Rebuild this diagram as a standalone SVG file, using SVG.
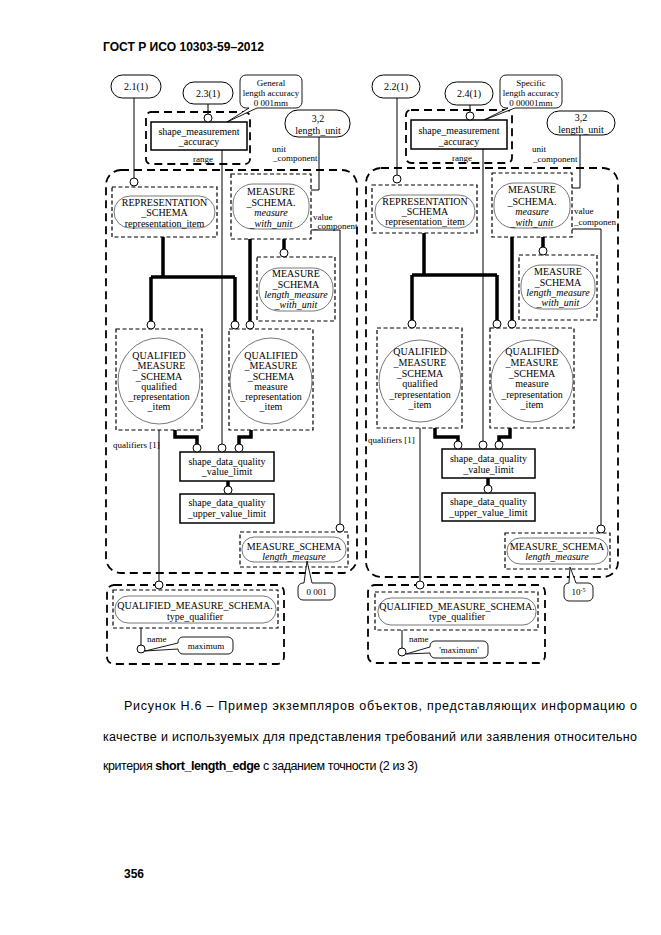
<svg xmlns="http://www.w3.org/2000/svg" width="661" height="935" viewBox="0 0 661 935">
<style>
.bub{fill:#fff;stroke:#000;stroke-width:1}
.box{fill:#fff;stroke:#000;stroke-width:1.5}
.dbox{fill:none;stroke:#000;stroke-width:1.2;stroke-dasharray:4 2.5}
.big{fill:none;stroke:#000;stroke-width:1.8;stroke-dasharray:8 5}
.ov{fill:#fff;stroke:#555;stroke-width:0.8}
.call{fill:#fff;stroke:#000;stroke-width:0.9}
.thin{fill:none;stroke:#000;stroke-width:1}
.thick{fill:none;stroke:#000;stroke-width:3.5}
.c{fill:#fff;stroke:#000;stroke-width:1}
text{font-family:"Liberation Serif","Times New Roman",serif;font-size:10px;fill:#000}
.m{text-anchor:middle}
.s{font-size:9px}
.i{font-style:italic}
.hd{font-family:"Liberation Sans",Arial,sans-serif;font-weight:bold;font-size:12px}
.cap{font-family:"Liberation Sans",Arial,sans-serif;font-size:12.5px}
</style>
<rect width="661" height="935" fill="#fff"/>
<text class="hd" x="103" y="51" textLength="161" lengthAdjust="spacingAndGlyphs">ГОСТ Р ИСО 10303-59–2012</text>

<!-- LEFT DIAGRAM -->
<g id="L_frame_main"><rect class="big" x="106" y="170" width="251" height="403" rx="15"/></g>
<g id="L_range_frame"><rect class="big" x="146" y="112" width="104" height="52" rx="5"/><text class="s m" x="203" y="162">range</text></g>
<g id="L_ref_2_1"><rect class="bub" x="111" y="75" width="50" height="23" rx="11.5"/><text class="m" x="136" y="90">2.1(1)</text></g>
<g id="L_ref_2_3"><rect class="bub" x="183" y="82" width="50" height="22" rx="11"/><text class="m" x="208" y="97">2.3(1)</text></g>
<g id="L_note_general"><path class="call" d="M246,75 H296 A6,6 0 0 1 302,81 V102 A6,6 0 0 1 296,108 H257 L227,122 L249,108 H246 A6,6 0 0 1 240,102 V81 A6,6 0 0 1 246,75 Z"/>
<text class="s m" x="271" y="86">General</text><text class="s m" x="271" y="96">length accuracy</text><text class="s m" x="271" y="106">0 001mm</text></g>
<g id="L_sma"><rect class="box" x="151" y="122" width="96" height="28"/><text class="m" x="199" y="135">shape_measurement</text><text class="m" x="199" y="145">_accuracy</text></g>
<g id="L_ref_3_2"><rect class="bub" x="285" y="110" width="65" height="27" rx="13"/><text class="m" x="318" y="122">3,2</text><text class="m" x="318" y="134">length_unit</text></g>
<g id="L_lbl_unit"><text class="s" x="272" y="152">unit</text><text class="s" x="273" y="161">_component</text></g>
<g id="L_rep_item"><rect class="dbox" x="112" y="187" width="105" height="50"/><rect class="ov" x="114" y="196" width="101" height="32" rx="16"/>
<text class="m" x="164.5" y="205.5">REPRESENTATION</text><text class="m" x="164.5" y="216">_SCHEMA</text><text class="m" x="164.5" y="227">representation_item</text></g>
<g id="L_mwu"><rect class="dbox" x="231" y="174" width="80" height="65"/><rect class="ov" x="233" y="184" width="76" height="45" rx="20"/>
<text class="m" x="271" y="195">MEASURE</text><text class="m" x="271" y="206">_SCHEMA.</text><text class="m i" x="271" y="216">measure</text><text class="m i" x="271" y="227">_with_unit</text></g>
<g id="L_lbl_value"><text class="s" x="313" y="220">value</text><text class="s" x="313" y="229">_component</text></g>
<g id="L_lmwu"><rect class="dbox" x="257" y="257" width="78" height="64"/><rect class="ov" x="259" y="268" width="74" height="43" rx="20"/>
<text class="m" x="296" y="277">MEASURE</text><text class="m" x="296" y="288">_SCHEMA</text><text class="m i" x="296" y="298">length_measure</text><text class="m i" x="296" y="308">_with_unit</text></g>
<g id="L_qri"><rect class="dbox" x="116" y="329" width="86" height="101"/><ellipse class="ov" cx="159" cy="381" rx="41" ry="43"/>
<text class="m" x="159" y="358.5">QUALIFIED</text><text class="m" x="159" y="369">_MEASURE</text><text class="m" x="159" y="379.5">_SCHEMA</text><text class="m" x="159" y="389.5">qualified</text><text class="m" x="159" y="400">_representation</text><text class="m" x="159" y="410">_item</text></g>
<g id="L_mri"><rect class="dbox" x="229" y="329" width="84" height="101"/><ellipse class="ov" cx="271" cy="381" rx="41" ry="43"/>
<text class="m" x="271" y="358.5">QUALIFIED</text><text class="m" x="271" y="369">_MEASURE</text><text class="m" x="271" y="379.5">_SCHEMA</text><text class="m" x="271" y="389.5">measure</text><text class="m" x="271" y="400">_representation</text><text class="m" x="271" y="410">_item</text></g>
<g id="L_lbl_qual"><text class="s" x="113" y="448">qualifiers [1]</text></g>
<g id="L_vl"><rect class="box" x="180" y="452" width="94" height="29"/><text class="m" x="227" y="465">shape_data_quality</text><text class="m" x="227" y="475">_value_limit</text></g>
<g id="L_uvl"><rect class="box" x="180" y="494" width="94" height="29"/><text class="m" x="227" y="506">shape_data_quality</text><text class="m" x="227" y="516.5">_upper_value_limit</text></g>
<g id="L_lm"><rect class="dbox" x="240" y="532" width="108" height="35"/><rect class="ov" x="242" y="537" width="104" height="25" rx="12"/>
<text class="m" x="294" y="550">MEASURE_SCHEMA</text><text class="m i" x="294" y="560">length_measure</text></g>
<g id="L_note_0001"><path class="call" d="M303,583 H304 L307,561 L312,583 H330 A5,5 0 0 1 335,588 V595 A5,5 0 0 1 330,600 H303 A5,5 0 0 1 298,595 V588 A5,5 0 0 1 303,583 Z"/><text class="s m" x="316.5" y="595">0 001</text></g>
<g id="L_tq"><rect class="big" x="107" y="585" width="177" height="79" rx="7"/><rect class="dbox" x="113" y="590" width="165" height="38"/><rect class="ov" x="115" y="596" width="161" height="27" rx="13"/>
<text class="m" x="195" y="609">QUALIFIED_MEASURE_SCHEMA.</text><text class="m" x="195" y="619.5">type_qualifier</text></g>
<g id="L_lbl_name"><text class="s" x="147" y="642">name</text></g>
<g id="L_note_max"><path class="call" d="M183,637 H228 A5,5 0 0 1 233,642 V649 A5,5 0 0 1 228,654 H183 A5,5 0 0 1 178,649 L145,651 L178,643 V642 A5,5 0 0 1 183,637 Z"/><text class="s m" x="206" y="649">maximum</text></g>

<!-- RIGHT DIAGRAM -->
<g id="R_frame_main"><rect class="big" x="366" y="168" width="252" height="409" rx="15"/></g>
<g id="R_range_frame"><rect class="big" x="406" y="110" width="106" height="53" rx="5"/><text class="s m" x="462" y="161">range</text></g>
<g id="R_ref_2_2"><rect class="bub" x="372" y="75" width="48" height="23" rx="11.5"/><text class="m" x="396" y="90">2.2(1)</text></g>
<g id="R_ref_2_4"><rect class="bub" x="445" y="82" width="48" height="23" rx="11.5"/><text class="m" x="469" y="97">2.4(1)</text></g>
<g id="R_note_specific"><path class="call" d="M506,75 H556 A6,6 0 0 1 562,81 V102 A6,6 0 0 1 556,108 H515 L484,120 L508,108 H506 A6,6 0 0 1 500,102 V81 A6,6 0 0 1 506,75 Z"/>
<text class="s m" x="531" y="86">Specific</text><text class="s m" x="531" y="96">length accuracy</text><text class="s m" x="531" y="106">0 00001mm</text></g>
<g id="R_sma"><rect class="box" x="411" y="120" width="96" height="29"/><text class="m" x="459" y="134">shape_measurement</text><text class="m" x="459" y="145">_accuracy</text></g>
<g id="R_ref_3_2"><rect class="bub" x="547" y="111" width="68" height="24" rx="12"/><text class="m" x="581" y="120.5">3,2</text><text class="m" x="581" y="132.5">length_unit</text></g>
<g id="R_lbl_unit"><text class="s" x="532" y="152">unit</text><text class="s" x="533" y="162">_component</text></g>
<g id="R_rep_item"><rect class="dbox" x="372" y="185" width="105" height="48"/><rect class="ov" x="375" y="195" width="100" height="33" rx="16"/>
<text class="m" x="425" y="204.5">REPRESENTATION</text><text class="m" x="425" y="214.5">_SCHEMA</text><text class="m" x="425" y="225">representation_item</text></g>
<g id="R_mwu"><rect class="dbox" x="492" y="173" width="80" height="64"/><rect class="ov" x="494" y="183" width="76" height="45" rx="20"/>
<text class="m" x="532" y="193">MEASURE</text><text class="m" x="532" y="204.5">_SCHEMA.</text><text class="m i" x="532" y="214.5">measure</text><text class="m i" x="532" y="225.5">_with_unit</text></g>
<g id="R_lbl_value"><text class="s" x="574" y="214">value</text><text class="s" x="574" y="225">_componen</text></g>
<g id="R_lmwu"><rect class="dbox" x="519" y="255" width="78" height="65"/><rect class="ov" x="521" y="265" width="74" height="44" rx="20"/>
<text class="m" x="558" y="275">MEASURE</text><text class="m" x="558" y="286">_SCHEMA</text><text class="m i" x="558" y="296">length_measure</text><text class="m i" x="558" y="306">_with_unit</text></g>
<g id="R_qri"><rect class="dbox" x="377" y="328" width="85" height="100"/><ellipse class="ov" cx="420" cy="381" rx="41" ry="41"/>
<text class="m" x="420" y="355">QUALIFIED</text><text class="m" x="420" y="365.5">_MEASURE</text><text class="m" x="420" y="376.5">_SCHEMA</text><text class="m" x="420" y="387">qualified</text><text class="m" x="420" y="397.5">_representation</text><text class="m" x="420" y="408">_item</text></g>
<g id="R_mri"><rect class="dbox" x="490" y="328" width="84" height="100"/><ellipse class="ov" cx="532" cy="381" rx="41" ry="41"/>
<text class="m" x="532" y="355">QUALIFIED</text><text class="m" x="532" y="365.5">_MEASURE</text><text class="m" x="532" y="376.5">_SCHEMA</text><text class="m" x="532" y="387">measure</text><text class="m" x="532" y="397.5">_representation</text><text class="m" x="532" y="408">_item</text></g>
<g id="R_lbl_qual"><text class="s" x="368" y="443">qualifiers [1]</text></g>
<g id="R_vl"><rect class="box" x="442" y="449" width="93" height="29"/><text class="m" x="488.5" y="462">shape_data_quality</text><text class="m" x="488.5" y="472.5">_value_limit</text></g>
<g id="R_uvl"><rect class="box" x="442" y="493" width="93" height="28"/><text class="m" x="488.5" y="505">shape_data_quality</text><text class="m" x="488.5" y="516">_upper_value_limit</text></g>
<g id="R_lm"><rect class="dbox" x="505" y="533" width="105" height="36"/><rect class="ov" x="507" y="538" width="101" height="26" rx="13"/>
<text class="m" x="557" y="550">MEASURE_SCHEMA</text><text class="m i" x="557" y="560">length_measure</text></g>
<g id="R_note_10e5"><path class="call" d="M569,583 L570,567 L576,583 H588 A5,5 0 0 1 593,588 V596 A5,5 0 0 1 588,601 H569 A5,5 0 0 1 564,596 V588 A5,5 0 0 1 569,583 Z"/><text class="s m" x="578.5" y="595">10<tspan font-size="6" dy="-3">-5</tspan></text></g>
<g id="R_tq"><rect class="big" x="368" y="585" width="177" height="78" rx="7"/><rect class="dbox" x="375" y="592" width="163" height="38"/><rect class="ov" x="378" y="598" width="158" height="27" rx="13"/>
<text class="m" x="457" y="609.5">QUALIFIED_MEASURE_SCHEMA.</text><text class="m" x="457" y="620">type_qualifier</text></g>
<g id="R_lbl_name"><text class="s" x="409" y="642">name</text></g>
<g id="R_note_max"><path class="call" d="M435,641 H483 A5,5 0 0 1 488,646 V653 A5,5 0 0 1 483,658 H435 A5,5 0 0 1 430,653 L406,654 L430,647 V646 A5,5 0 0 1 435,641 Z"/><text class="s m" x="459" y="653">'maximum'</text></g>

<!-- CONNECTORS -->
<g id="connectors">
<path class="thin" d="M134,98 V178"/>
<path class="thin" d="M208,104 V114"/>
<path class="thin" d="M319,137 V190 H311"/>
<path class="thin" d="M311,230 H340 V524"/>
<path class="thick" d="M163,237 V277 M151,277 H235 M151,277 V321 M235,277 V321"/>
<path class="thick" d="M250,239 V321"/>
<path class="thick" d="M284,239 V249"/>
<path class="thin" d="M222,150 V444"/>
<path class="thick" d="M175,430 V437 H197 V444"/>
<path class="thick" d="M251,430 V437 H239 V444"/>
<path class="thick" d="M228,481 V486"/>
<path class="thin" d="M159,430 V581"/>
<path class="thin" d="M141,628 V645"/>
<circle class="c" cx="134" cy="182" r="4"/>
<circle class="c" cx="208" cy="118" r="4"/>
<circle class="c" cx="340" cy="528" r="4"/>
<circle class="c" cx="151" cy="325" r="4"/>
<circle class="c" cx="235" cy="325" r="4"/>
<circle class="c" cx="250" cy="325" r="4"/>
<circle class="c" cx="284" cy="253" r="4"/>
<circle class="c" cx="222" cy="448" r="4"/>
<circle class="c" cx="197" cy="448" r="4"/>
<circle class="c" cx="239" cy="448" r="4"/>
<circle class="c" cx="228" cy="490" r="4"/>
<circle class="c" cx="159" cy="585" r="4"/>
<circle class="c" cx="141" cy="649" r="4"/>

<path class="thin" d="M397,98 V175"/>
<path class="thin" d="M470,105 V112"/>
<path class="thin" d="M580,135 V188 H572"/>
<path class="thin" d="M572,229 H601 V525"/>
<path class="thick" d="M424,233 V275 M412,275 H497 M412,275 V320 M497,275 V320"/>
<path class="thick" d="M512,237 V320"/>
<path class="thick" d="M543,237 V247"/>
<path class="thin" d="M483,149 V441"/>
<path class="thick" d="M435,428 V437 H458 V441"/>
<path class="thick" d="M510,428 V437 H499 V441"/>
<path class="thick" d="M488,478 V485"/>
<path class="thin" d="M420,428 V581"/>
<path class="thin" d="M402,630 V648"/>
<circle class="c" cx="397" cy="179" r="4"/>
<circle class="c" cx="470" cy="116" r="4"/>
<circle class="c" cx="601" cy="529" r="4"/>
<circle class="c" cx="412" cy="324" r="4"/>
<circle class="c" cx="497" cy="324" r="4"/>
<circle class="c" cx="512" cy="324" r="4"/>
<circle class="c" cx="543" cy="251" r="4"/>
<circle class="c" cx="483" cy="445" r="4"/>
<circle class="c" cx="458" cy="445" r="4"/>
<circle class="c" cx="499" cy="445" r="4"/>
<circle class="c" cx="488" cy="489" r="4"/>
<circle class="c" cx="420" cy="585" r="4"/>
<circle class="c" cx="402" cy="652" r="4"/>
</g>

<text class="cap" x="124" y="710" textLength="513" lengthAdjust="spacing">Рисунок Н.6 – Пример экземпляров объектов, представляющих информацию о</text>
<text class="cap" x="103" y="741" textLength="534" lengthAdjust="spacing">качестве и используемых для представления требований или заявления относительно</text>
<text class="cap" x="103" y="770" textLength="315" lengthAdjust="spacing">критерия <tspan font-weight="bold">short_length_edge</tspan> с заданием точности (2 из 3)</text>
<text class="hd" x="124" y="878" font-size="12.5">356</text>
</svg>
